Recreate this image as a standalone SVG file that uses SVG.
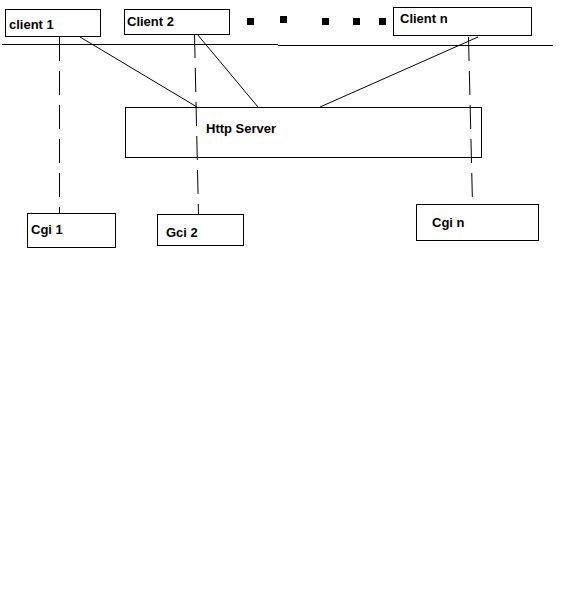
<svg xmlns="http://www.w3.org/2000/svg" width="570" height="600" viewBox="0 0 570 600">
<style>
.box{fill:none;stroke:#000;stroke-width:1;shape-rendering:crispEdges}
.lbl{font-family:"Liberation Sans",Arial,sans-serif;font-weight:bold;font-size:13px;fill:#000}
.ln{stroke:#000;stroke-width:1;fill:none}
.dash{stroke:#000;stroke-width:1;fill:none;stroke-dasharray:24,10}
.dot{fill:#000}
</style>
<rect width="570" height="600" fill="#fff"/>
<g id="client1">
<rect class="box" x="5.5" y="9.5" width="95" height="27"/>
<text class="lbl" x="9" y="29">client 1</text>
</g>
<g id="client2">
<rect class="box" x="124.5" y="9.5" width="105" height="25"/>
<text class="lbl" x="127" y="26">Client 2</text>
</g>
<g id="clientn">
<rect class="box" x="393.5" y="7.5" width="138" height="28"/>
<text class="lbl" x="400" y="23">Client n</text>
</g>
<g id="httpserver">
<rect class="box" x="125.5" y="107.5" width="356" height="50"/>
<text class="lbl" x="206" y="133">Http Server</text>
</g>
<g id="cgi1">
<rect class="box" x="27.5" y="213.5" width="88" height="34"/>
<text class="lbl" x="31" y="234">Cgi 1</text>
</g>
<g id="gci2">
<rect class="box" x="157.5" y="214.5" width="86" height="31"/>
<text class="lbl" x="166" y="237">Gci 2</text>
</g>
<g id="cgin">
<rect class="box" x="416.5" y="204.5" width="122" height="36"/>
<text class="lbl" x="432" y="227">Cgi n</text>
</g>
<g id="dots">
<rect class="dot" x="247" y="18" width="7" height="7"/>
<rect class="dot" x="280" y="16" width="7" height="7"/>
<rect class="dot" x="322" y="18" width="7" height="7"/>
<rect class="dot" x="353" y="18" width="7" height="7"/>
<rect class="dot" x="379" y="18" width="7" height="7"/>
</g>
<g id="connectors">
<line class="ln" x1="2" y1="44.5" x2="278" y2="44.5" shape-rendering="crispEdges"/>
<line class="ln" x1="278" y1="45.5" x2="553" y2="45.5" shape-rendering="crispEdges"/>
<line class="ln" x1="80" y1="37" x2="197" y2="107"/>
<line class="ln" x1="197" y1="34" x2="258" y2="107"/>
<line class="ln" x1="478" y1="37" x2="320" y2="107"/>
<line class="dash" x1="59.5" y1="37" x2="59.5" y2="213"/>
<line class="dash" x1="194.5" y1="34" x2="198.5" y2="214"/>
<line class="dash" x1="468.5" y1="37" x2="472.5" y2="204"/>
</g>
</svg>
